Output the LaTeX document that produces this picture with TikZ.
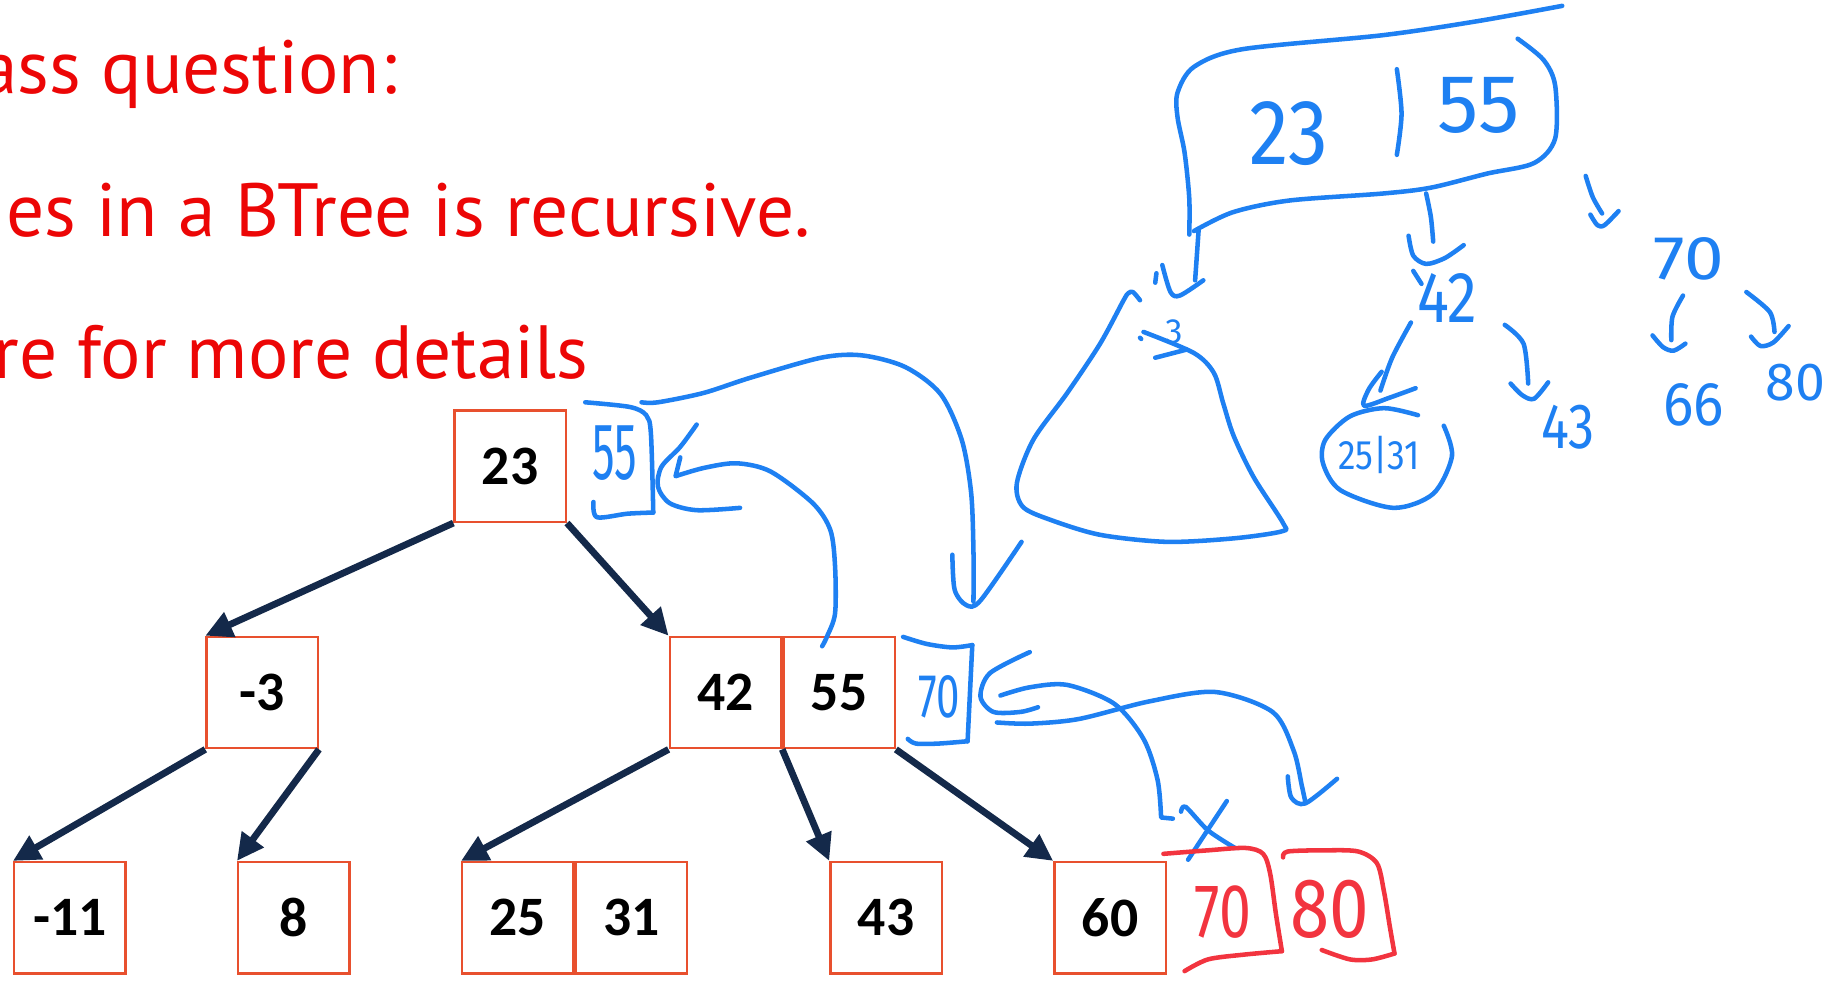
\documentclass[tikz,border=0pt]{standalone}
\usepackage{fontspec}
\usetikzlibrary{positioning, arrows.meta}
\newfontfamily\slideFont{PT Sans}
\newfontfamily\keyFont{Carlito}
\newfontfamily\inkFont{Fira Sans}

\definecolor{slideRed}{HTML}{EC0606}
\definecolor{boxRed}{HTML}{E8502E}
\definecolor{arrowNavy}{HTML}{14294A}
\definecolor{penBlue}{HTML}{1E80F2}
\definecolor{penRed}{HTML}{F2343F}

\tikzstyle{slideText} = [text=slideRed, anchor=base west, inner sep=0pt,
	font=\slideFont\fontsize{36.6}{40}\selectfont]
\tikzstyle{keyBox} = [shape=rectangle, draw=boxRed, line width=1.1pt, fill=white,
	minimum width=1.9cm, minimum height=1.9cm, inner sep=0pt,
	font=\keyFont\bfseries\fontsize{27}{30}\selectfont]
\tikzstyle{treeArrow} = [line width=3.3pt, draw=arrowNavy,
	-{Triangle[length=0.46cm, width=0.44cm]}]
\tikzstyle{pen} = [draw=penBlue, line width=2.2pt, line cap=round, line join=round]
\tikzstyle{redPen} = [pen, draw=penRed]
\tikzstyle{penText} = [text=penBlue, inner sep=0pt, font=\inkFont]
\tikzstyle{redPenText} = [penText, text=penRed]

\begin{document}
\begin{tikzpicture}[x=0.02cm, y=-0.02cm]
	\useasboundingbox (0,0) rectangle (1568,836);
	\clip (0,0) rectangle (1568,836);

	% slide text
	\node (Line1) at (-17,80) [slideText] {ass question:};
	\node (Line2) at (5,202) [slideText] {es in a BTree is recursive.};
	\node (Line3) at (-6,323) [slideText] {re for more details};

	% the tree
	\node (Box23) at (435,397.5) [keyBox] {23};
	\node (BoxM3) at (223.5,590.5) [keyBox] {-3};
	\node (Box42) at (618.5,590.5) [keyBox] {42};
	\node (Box55) [keyBox, right=0pt of Box42] {55};
	\node (BoxM11) at (59.5,782.5) [keyBox] {-11};
	\node (Box8) at (250.5,782.5) [keyBox] {8};
	\node (Box25) at (441.5,782.5) [keyBox] {25};
	\node (Box31) [keyBox, right=0pt of Box25] {31};
	\node (Box43) at (755.5,782.5) [keyBox] {43};
	\node (Box60) at (946.5,782.5) [keyBox] {60};

	\draw [treeArrow] (Box23.south west) -- (BoxM3.north west);
	\draw [treeArrow] (Box23.south east) -- (Box42.north west);
	\draw [treeArrow] (BoxM3.south west) -- (BoxM11.north west);
	\draw [treeArrow] (BoxM3.south east) -- (Box8.north west);
	\draw [treeArrow] (Box42.south west) -- (Box25.north west);
	\draw [treeArrow] (Box42.south east) -- (Box43.north west);
	\draw [treeArrow] (Box55.south east) -- (Box60.north west);

	% ink next to the root
	\draw [pen] plot[smooth] coordinates {(499,343) (537,347) (551,354) (555,370) (557,437)};
	\draw [pen] plot[smooth] coordinates {(557,437) (535,438) (509,441) (506,428)};
	\node (Ink55) at (524,386) [penText, font=\inkFont\fontsize{39}{40}\selectfont, xscale=.56] {55};
	\draw [pen] plot[smooth] coordinates {(594,362) (580,381) (564,398) (561,415) (571,429) (594,435) (631,433)};
	\draw [pen] (580,390) -- plot[smooth] coordinates {(576,406) (600,399) (628,395) (657,402)
		(693,429) (708,452) (712,483) (712,523) (705,543) (701,551)};
	\draw [pen] plot[smooth] coordinates {(547,343) (561,343) (600,335) (640,322) (700,305)
		(735,303) (772,313) (802,336) (820,375) (828,420) (830,470) (830,513)};
	\draw [pen] plot[smooth] coordinates {(812,473) (814,503) (824,516) (836,512) (871,462)};

	% ink next to 42|55
	\draw [pen] plot[smooth] coordinates {(770,543) (790,549) (812,552) (829,550)};
	\draw [pen] (829,550) -- (825,632);
	\draw [pen] plot[smooth] coordinates {(825,632) (800,634) (781,634) (774,630)};
	\node (Ink70) at (801,594) [penText, font=\inkFont\fontsize{30}{32}\selectfont, xscale=.68] {70};
	\draw [pen] plot[smooth] coordinates {(878,556) (844,574) (836,594) (847,607) (870,607) (885,603)};
	\draw [pen] plot[smooth] coordinates {(853,593) (878,586) (910,584) (950,600) (975,630)
		(987,665) (990,697)} -- (1000,698);
	\draw [pen] plot[smooth] coordinates {(850,616) (878,617) (920,613) (980,598) (1036,590)
		(1085,607) (1103,640) (1110,670) (1113,684)};
	\draw [pen] plot[smooth] coordinates {(1098,662) (1101,680) (1113,685) (1140,664)};
	\draw [pen] plot[smooth] coordinates {(1007,692) (1011,688) (1030,708) (1053,723)};
	\draw [pen] (1046,683) -- (1013,733);

	% new leaves
	\draw [redPen] plot[smooth] coordinates {(992,728) (1030,725) (1062,723) (1077,728) (1083,745)
		(1088,780) (1093,811)};
	\draw [redPen] plot[smooth] coordinates {(1093,811) (1060,814) (1030,818) (1010,828)};
	\node (Red70) at (1043,778) [redPenText, font=\inkFont\fontsize{37}{40}\selectfont, xscale=.75] {70};
	\draw [redPen] plot[smooth] coordinates {(1094,731) (1098,726) (1130,725) (1158,726) (1174,736)
		(1180,760) (1185,790) (1189,813)};
	\draw [redPen] plot[smooth] coordinates {(1189,813) (1170,818) (1151,818) (1127,810)};
	\node (Red80) at (1134,775) [redPenText, font=\inkFont\fontsize{41}{44}\selectfont, xscale=.84] {80};

	% sketched tree, top right
	\draw [pen] plot[smooth] coordinates {(1332,5) (1260,18) (1179,30) (1059,42) (1018,57) (1004,79)
		(1004,100) (1010,130) (1014,169) (1014,200)};
	\draw [pen] plot[smooth] coordinates {(1018,197) (1051,181) (1099,171) (1179,165) (1220,160)
		(1268,148) (1308,139) (1326,118) (1326,73) (1316,51) (1294,33)};
	\node (Top23) at (1099,114) [penText, font=\inkFont\fontsize{45}{48}\selectfont, xscale=.86] {23};
	\draw [pen] plot[smooth] coordinates {(1191,59) (1195,97) (1191,132)};
	\node (Top55) at (1261,90) [penText, font=\inkFont\fontsize{40}{44}\selectfont] {55};

	\draw [pen] (1022,196) -- (1019,239);
	\draw [pen] plot[smooth] coordinates {(991,226) (998,249) (1006,252) (1026,239)};
	\draw [pen] (986,233) -- (985,241);
	\draw [pen] plot[smooth] coordinates {(972,256) (966,249) (962,250) (958,256) (938,293) (910,335)
		(881,375) (867,412) (872,432) (895,443) (938,456) (995,462) (1052,459) (1093,453)
		(1094,446) (1069,407) (1052,372) (1043,344) (1035,318) (1018,301) (975,283)};
	\draw [pen] (985,305) -- (1012,298);
	\draw [pen] (972,288) -- (973,289);
	\node (Top3) at (1001,283) [penText, font=\inkFont\fontsize{17}{18}\selectfont] {3};

	\draw [pen] plot[smooth] coordinates {(1216,165) (1220,185) (1222,206)};
	\draw [pen] plot[smooth] coordinates {(1201,201) (1205,218) (1216,225) (1232,220) (1248,209)};
	\draw [pen] (1205,231) -- (1212,242);
	\node (Top42) at (1234,254) [penText, font=\inkFont\fontsize{35}{38}\selectfont, xscale=.83] {42};
	\draw [pen] plot[smooth] coordinates {(1203,275) (1187,305) (1177,333)};
	\draw [pen] plot[smooth] coordinates {(1178,317) (1167,332) (1163,346) (1185,339) (1207,331)};
	\draw [pen] plot[smooth] coordinates {(1209,354) (1180,348) (1151,355) (1130,375) (1128,395)
		(1143,418) (1188,433) (1222,421) (1238,389) (1231,363)};
	\node (Top2531) at (1176,388) [penText, font=\inkFont\fontsize{20}{22}\selectfont, xscale=.86] {25|31};
	\draw [pen] plot[smooth] coordinates {(1283,277) (1299,293) (1303,327)};
	\draw [pen] plot[smooth] coordinates {(1288,327) (1298,337) (1308,340) (1320,326)};
	\node (Top43) at (1337,364) [penText, font=\inkFont\fontsize{31}{34}\selectfont, xscale=.82] {43};

	\draw [pen] plot[smooth] coordinates {(1352,150) (1358,168) (1366,182)};
	\draw [pen] plot[smooth] coordinates {(1356,183) (1362,192) (1368,192) (1380,180)};
	\node (Top70) at (1440,221) [penText, font=\inkFont\fontsize{30}{32}\selectfont, xscale=1.15] {70};
	\draw [pen] plot[smooth] coordinates {(1435,252) (1426,270) (1425,290)};
	\draw [pen] plot[smooth] coordinates {(1409,286) (1418,296) (1427,299) (1437,293)};
	\node (Top66) at (1444,345) [penText, font=\inkFont\fontsize{30}{32}\selectfont, xscale=.92] {66};
	\draw [pen] plot[smooth] coordinates {(1489,249) (1509,266) (1513,283)};
	\draw [pen] plot[smooth] coordinates {(1493,287) (1501,295) (1512,292) (1525,278)};
	\node (Top80) at (1531,326) [penText, font=\inkFont\fontsize{26}{28}\selectfont] {80};
\end{tikzpicture}
\end{document}
